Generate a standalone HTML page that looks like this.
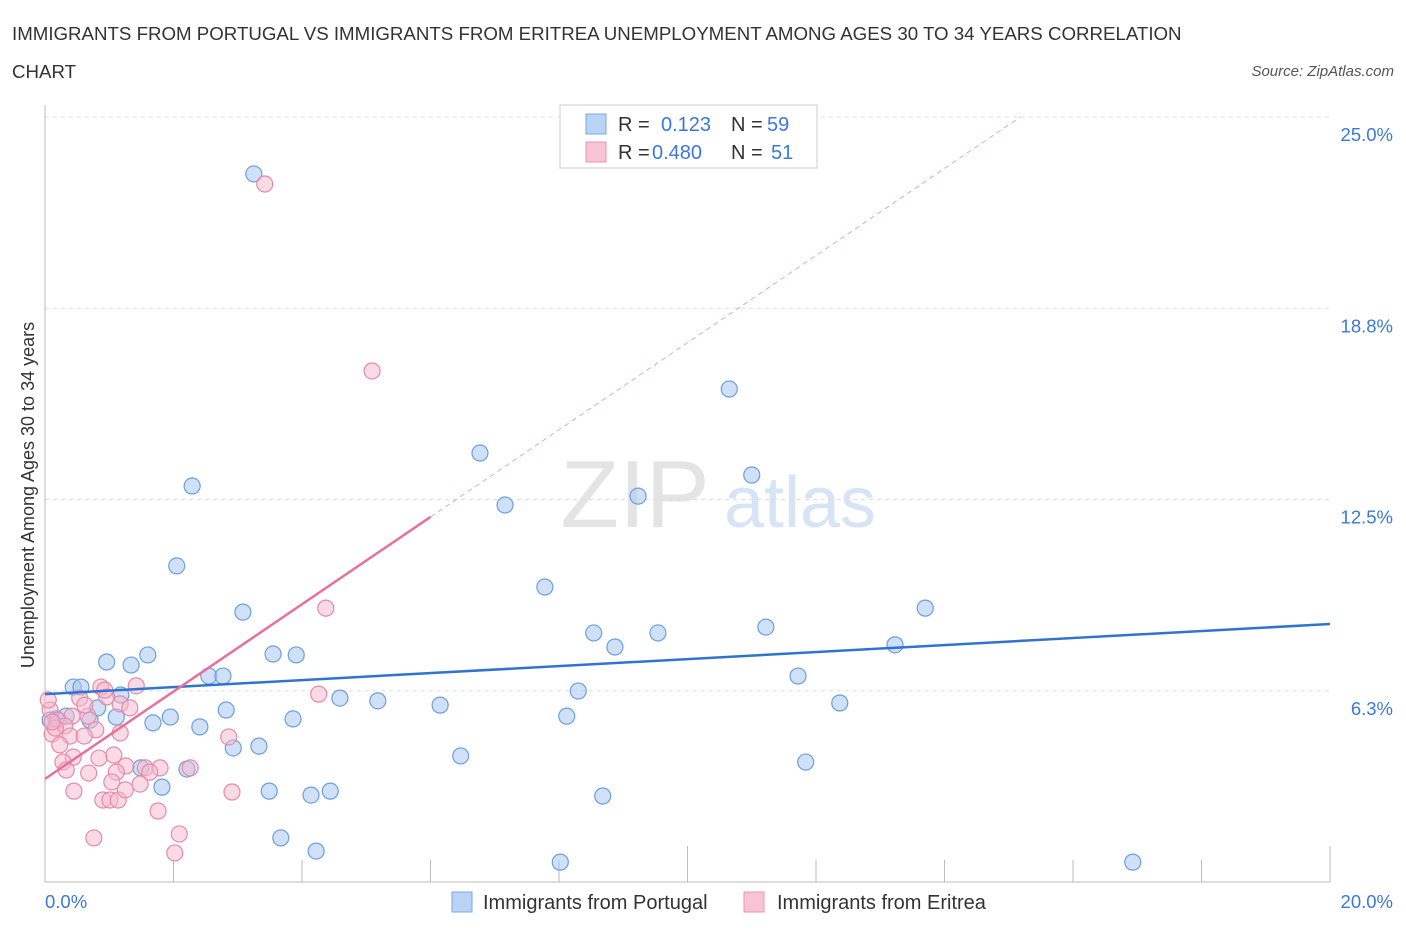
<!DOCTYPE html>
<html><head><meta charset="utf-8">
<style>
body{margin:0;background:#fff;font-family:"Liberation Sans",sans-serif;}
svg text{font-family:"Liberation Sans",sans-serif;}
</style></head>
<body>
<svg id="chart" width="1406" height="930" xmlns="http://www.w3.org/2000/svg">
<text x="12" y="40" font-size="18.7" fill="#333">IMMIGRANTS FROM PORTUGAL VS IMMIGRANTS FROM ERITREA UNEMPLOYMENT AMONG AGES 30 TO 34 YEARS CORRELATION</text>
<text x="12" y="78" font-size="18.7" fill="#333">CHART</text>
<text x="1394" y="76" font-size="15" fill="#555" font-style="italic" text-anchor="end">Source: ZipAtlas.com</text>
<g>
<text x="635" y="527" font-size="96" fill="#e4e4e4" font-family="Liberation Serif" text-anchor="middle">ZIP</text>
<text x="800" y="527" font-size="72" fill="#d6e4f5" text-anchor="middle">atlas</text>
</g>
<g id="grid"></g>
<g id="axes"></g>
<g id="pts"></g>
<g id="lines"></g>
<text transform="translate(34,495) rotate(-90)" font-size="18" fill="#333" text-anchor="middle">Unemployment Among Ages 30 to 34 years</text>
<g>
<rect x="560" y="105" width="257" height="63" fill="#fff" stroke="#ccc"/>
<rect x="586" y="114" width="20" height="20" fill="#b8d3f5" stroke="#7aa8e4"/>
<rect x="586" y="142" width="20" height="20" fill="#f8c3d4" stroke="#eb96b2"/>
<text x="618" y="131" font-size="20" fill="#333">R =</text><text x="661" y="131" font-size="20" fill="#3b78d8">0.123</text>
<text x="731" y="131" font-size="20" fill="#333">N =</text><text x="767" y="131" font-size="20" fill="#3b78d8">59</text>
<text x="618" y="159" font-size="20" fill="#333">R =</text><text x="652" y="159" font-size="20" fill="#3b78d8">0.480</text>
<text x="731" y="159" font-size="20" fill="#333">N =</text><text x="771" y="159" font-size="20" fill="#3b78d8">51</text>
</g>
<g>
<rect x="452" y="892" width="20" height="20" fill="#b8d3f5" stroke="#7aa8e4"/>
<text x="483" y="909" font-size="20" fill="#333">Immigrants from Portugal</text>
<rect x="744" y="892" width="20" height="20" fill="#f8c3d4" stroke="#eb96b2"/>
<text x="777" y="909" font-size="20" fill="#333">Immigrants from Eritrea</text>
</g>
</svg>
<script>
const yTicks=[6.25,12.5,18.75,25];
const yTickLabels=["6.3%","12.5%","18.8%","25.0%"];
const xTicks=[0,2,4,6,8,10,12,14,16,18,20];
const bluePx=[[254,174],[729,389],[480,453],[752,475],[192,486],[638,496],[505,505],[177,566],[545,587],[243,612],[925,608],[594,633],[658,633],[766,627],[615,647],[895,645],[148,655],[107,662],[131,665],[273,654],[296,655],[209,676],[223,676],[798,676],[73,687],[81,687],[121,695],[578,691],[340,698],[378,701],[440,705],[840,703],[98,708],[226,710],[56,719],[66,716],[116,717],[170,717],[153,723],[293,719],[567,716],[200,727],[259,746],[233,748],[461,756],[806,762],[187,769],[141,768],[162,787],[269,791],[330,791],[311,795],[603,796],[281,838],[316,851],[560,862],[1133,862],[50,720],[90,720]];
const pinkPx=[[265,184],[372,371],[326,608],[319,694],[136,686],[101,687],[80,698],[107,697],[120,704],[72,716],[88,716],[50,710],[58,720],[65,726],[52,734],[96,730],[120,733],[70,736],[229,737],[114,755],[73,757],[99,758],[63,762],[126,766],[145,768],[160,768],[190,768],[89,773],[116,772],[140,784],[112,782],[74,791],[232,792],[103,800],[110,800],[118,800],[158,811],[179,834],[94,838],[175,853],[48,700],[55,728],[84,736],[60,745],[130,708],[66,770],[150,772],[105,690],[85,705],[125,790],[52,722]];
const blueX=bluePx.map(p=>+((p[0]-45)/64.25).toFixed(2));
const blueY=bluePx.map(p=>+((882-p[1])/30.6).toFixed(2));
const pinkX=pinkPx.map(p=>+((p[0]-45)/64.25).toFixed(2));
const pinkY=pinkPx.map(p=>+((882-p[1])/30.6).toFixed(2));
const blueTrend=[[0,6.14],[20,8.43]];
const pinkTrend=[[0,3.37],[6,11.93]];
const pinkDash=[[6,11.93],[15.18,25]];

const X=v=>45+v*64.25, Y=v=>882-v*30.6;
const NS="http://www.w3.org/2000/svg";
function mk(tag,attrs,parent){const e=document.createElementNS(NS,tag);for(const k in attrs)e.setAttribute(k,attrs[k]);document.getElementById(parent).appendChild(e);return e;}
yTicks.forEach((t,i)=>{
 const l=mk('line',{x1:45,x2:1330,y1:Y(t),y2:Y(t),stroke:'#ddd','stroke-dasharray':'4,4'},'grid');
 
 
 const tx=mk('text',{x:1393,y:Y(t)+24,'font-size':18.5,fill:'#3b78d8','text-anchor':'end'},'grid');
 tx.textContent=yTickLabels[i];
 
 
});
const ax=mk('line',{x1:45,x2:1330,y1:882,y2:882,stroke:'#bbb'},'axes');


const ay=mk('line',{x1:45,x2:45,y1:105,y2:882,stroke:'#bbb'},'axes');


xTicks.forEach(t=>{
 const tk=mk('line',{x1:X(t),x2:X(t),y1:(t==10||t==20)?846:860,y2:882,stroke:'#bbb'},'axes');
 
 
});
const xl0=mk('text',{x:45,y:908,'font-size':18.5,fill:'#3b78d8'},'axes');xl0.textContent='0.0%';


const xl1=mk('text',{x:1393,y:908,'font-size':18.5,fill:'#3b78d8','text-anchor':'end'},'axes');xl1.textContent='20.0%';


blueX.forEach((v,i)=>{
 const c=mk('circle',{cx:X(v),cy:Y(blueY[i]),r:8,fill:'rgba(169,200,240,0.55)',stroke:'#6a9fe0','stroke-width':1.2},'pts');
 
 
});
pinkX.forEach((v,i)=>{
 const c=mk('circle',{cx:X(v),cy:Y(pinkY[i]),r:8,fill:'rgba(245,184,203,0.5)',stroke:'#e889a8','stroke-width':1.2},'pts');
 
 
});
const bl=mk('line',{x1:X(blueTrend[0][0]),y1:Y(blueTrend[0][1]),x2:X(blueTrend[1][0]),y2:Y(blueTrend[1][1]),stroke:'#2f74d0','stroke-width':2.5},'lines');


const pl=mk('line',{x1:X(pinkTrend[0][0]),y1:Y(pinkTrend[0][1]),x2:X(pinkTrend[1][0]),y2:Y(pinkTrend[1][1]),stroke:'#e8709a','stroke-width':2.5},'lines');


const pd=mk('line',{x1:X(pinkDash[0][0]),y1:Y(pinkDash[0][1]),x2:X(pinkDash[1][0]),y2:Y(pinkDash[1][1]),stroke:'#eaa5bd','stroke-width':1,'stroke-dasharray':'5,4'},'lines');


</script>
</body></html>
